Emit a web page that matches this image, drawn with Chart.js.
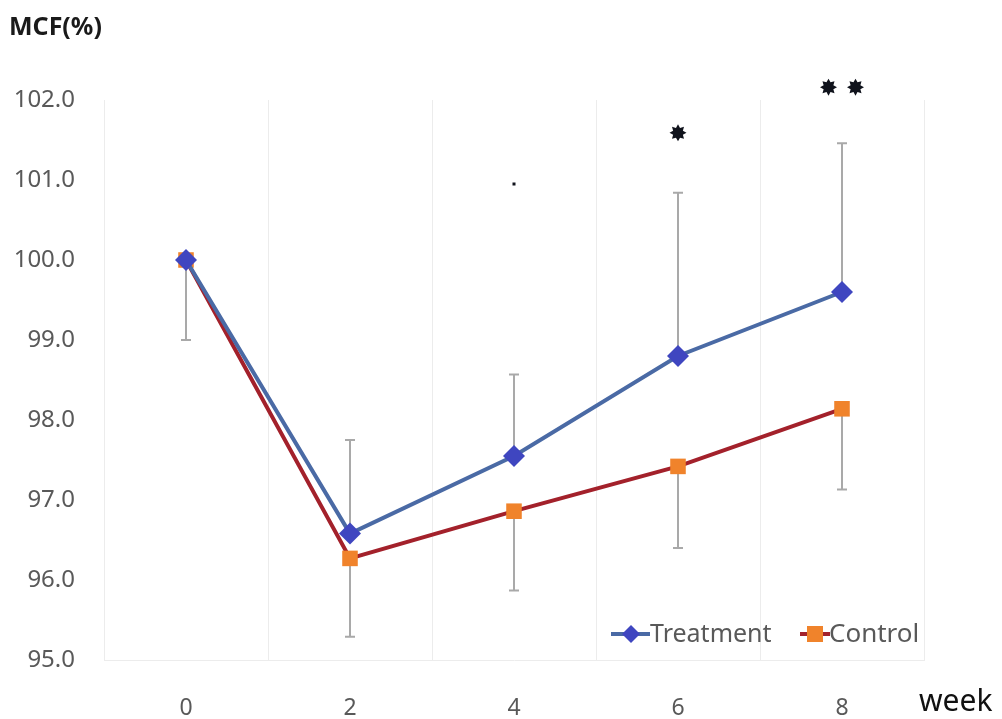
<!DOCTYPE html>
<html>
<head>
<meta charset="utf-8">
<script src="https://cdn.jsdelivr.net/npm/chart.js@4/dist/chart.umd.min.js"></script>
<style>
  html, body { margin: 0; padding: 0; background: #ffffff; }
  #wrap { width: 1002px; height: 719px; position: relative; }
</style>
</head>
<body>
<div id="wrap"><canvas id="c" width="1002" height="719"></canvas></div>
<script>
// Weeks of measurement
const weeks = ['0', '2', '4', '6', '8'];
// Mean MCF (%) per group
const treatment = [100.0, 96.58, 97.55, 98.80, 99.60];
const control = [100.0, 96.27, 96.86, 97.42, 98.14];
// Standard deviation bars: treatment drawn upward, control downward
const treatmentErrUp = [null, 1.17, 1.02, 2.04, 1.86];
const controlErrDown = [1.0, 0.98, 0.99, 1.02, 1.01];
// Significance marks above each week and the level they sit at
const sigMarks = ['', '', '.', '*', '**'];
const sigLevels = [null, null, 100.95, 101.59, 102.16];
// Y axis tick range
const yMin = 95, yMax = 102, yStep = 1;

const FONT = '"Noto Sans", "Open Sans", sans-serif';

const errorBars = {
  id: 'errorBars',
  beforeDatasetsDraw(chart) {
    const ctx = chart.ctx, x = chart.scales.x, y = chart.scales.y;
    ctx.save();
    ctx.strokeStyle = '#a9a9a9';
    ctx.lineWidth = 2;
    const cap = 5;
    const bar = (i, v0, v1) => {
      const px = x.getPixelForValue(i);
      const p0 = y.getPixelForValue(v0), p1 = y.getPixelForValue(v1);
      ctx.beginPath();
      ctx.moveTo(px, p0); ctx.lineTo(px, p1);
      ctx.moveTo(px - cap, p1); ctx.lineTo(px + cap, p1);
      ctx.stroke();
    };
    weeks.forEach((w, i) => {
      if (treatmentErrUp[i] != null) bar(i, treatment[i], treatment[i] + treatmentErrUp[i]);
      if (controlErrDown[i] != null) bar(i, control[i], control[i] - controlErrDown[i]);
    });
    ctx.restore();
  }
};

function drawStar(ctx, cx, cy, r) {
  // eight-pointed heavy asterisk
  ctx.beginPath();
  const n = 8;
  for (let k = 0; k < n * 2; k++) {
    const a = -Math.PI / 2 + k * Math.PI / n;
    const rr = k % 2 === 0 ? r : r * 0.62;
    const px = cx + rr * Math.cos(a), py = cy + rr * Math.sin(a);
    if (k === 0) ctx.moveTo(px, py); else ctx.lineTo(px, py);
  }
  ctx.closePath();
  ctx.fill();
}

const annotations = {
  id: 'annotations',
  afterDraw(chart) {
    const ctx = chart.ctx, x = chart.scales.x, y = chart.scales.y;
    ctx.save();
    // significance marks
    ctx.fillStyle = '#10131c';
    sigMarks.forEach((m, i) => {
      if (!m || sigLevels[i] == null) return;
      const px = x.getPixelForValue(i), py = y.getPixelForValue(sigLevels[i]);
      if (m === '.') {
        ctx.fillRect(px - 1.5, py - 1.5, 3, 3);
      } else {
        const n = m.length, gap = 27;
        for (let k = 0; k < n; k++) {
          drawStar(ctx, px + (k - (n - 1) / 2) * gap, py, 8.5);
        }
      }
    });

    // axis titles
    ctx.fillStyle = '#1a1a1a';
    ctx.font = 'bold 25px ' + FONT;
    ctx.textBaseline = 'middle';
    ctx.textAlign = 'left';
    ctx.fillText('MCF(%)', 9, 28);
    ctx.font = '30px ' + FONT;
    ctx.fillStyle = '#111111';
    ctx.fillText('week', 919, 702);

    // legend
    const ly = 634;
    ctx.font = '25px ' + FONT;
    // Treatment entry
    ctx.strokeStyle = '#4a6aa5';
    ctx.lineWidth = 4;
    ctx.beginPath(); ctx.moveTo(611, ly); ctx.lineTo(650, ly); ctx.stroke();
    ctx.fillStyle = '#3f46c0';
    ctx.beginPath();
    ctx.moveTo(631, ly - 9); ctx.lineTo(640, ly); ctx.lineTo(631, ly + 9); ctx.lineTo(622, ly);
    ctx.closePath(); ctx.fill();
    ctx.fillStyle = '#595959';
    ctx.fillText('Treatment', 650, ly + 1);
    // Control entry
    ctx.strokeStyle = '#a3212b';
    ctx.beginPath(); ctx.moveTo(800, ly); ctx.lineTo(830, ly); ctx.stroke();
    ctx.fillStyle = '#f0832b';
    ctx.fillRect(807, ly - 8, 16, 16);
    ctx.fillStyle = '#595959';
    ctx.font = '26px ' + FONT;
    ctx.fillText('Control', 829, ly + 1);
    ctx.restore();
  }
};

new Chart(document.getElementById('c'), {
  type: 'line',
  data: {
    labels: weeks,
    datasets: [
      {
        label: 'Control',
        data: control,
        borderColor: '#a3212b',
        borderWidth: 4,
        pointStyle: 'rect',
        pointRadius: 11,
        pointHoverRadius: 11,
        pointBackgroundColor: '#f0832b',
        pointBorderColor: '#f0832b',
        pointBorderWidth: 0,
        tension: 0,
        order: 2
      },
      {
        label: 'Treatment',
        data: treatment,
        borderColor: '#4a6aa5',
        borderWidth: 4,
        pointStyle: 'rectRot',
        pointRadius: 11,
        pointHoverRadius: 11,
        pointBackgroundColor: '#3f46c0',
        pointBorderColor: '#3f46c0',
        pointBorderWidth: 0,
        tension: 0,
        order: 1
      }
    ]
  },
  options: {
    responsive: false,
    animation: false,
    events: [],
    layout: { padding: { top: 100, right: 78, left: 0, bottom: 0 } },
    plugins: { legend: { display: false }, tooltip: { enabled: false } },
    scales: {
      x: {
        offset: true,
        grid: { offset: true, color: '#ececec', lineWidth: 1, drawTicks: false },
        border: { color: '#ececec' },
        ticks: { color: '#595959', font: { family: FONT, size: 23 }, padding: 35 },
        afterFit(s) { s.height = 59; }
      },
      y: {
        min: yMin, max: yMax,
        grid: { display: false, drawTicks: false },
        border: { color: '#ececec' },
        ticks: {
          stepSize: yStep,
          color: '#595959',
          font: { family: FONT, size: 24 },
          padding: 29,
          callback: v => v.toFixed(1)
        },
        afterFit(s) { s.width = 104; }
      }
    }
  },
  plugins: [errorBars, annotations]
});
</script>
</body>
</html>
